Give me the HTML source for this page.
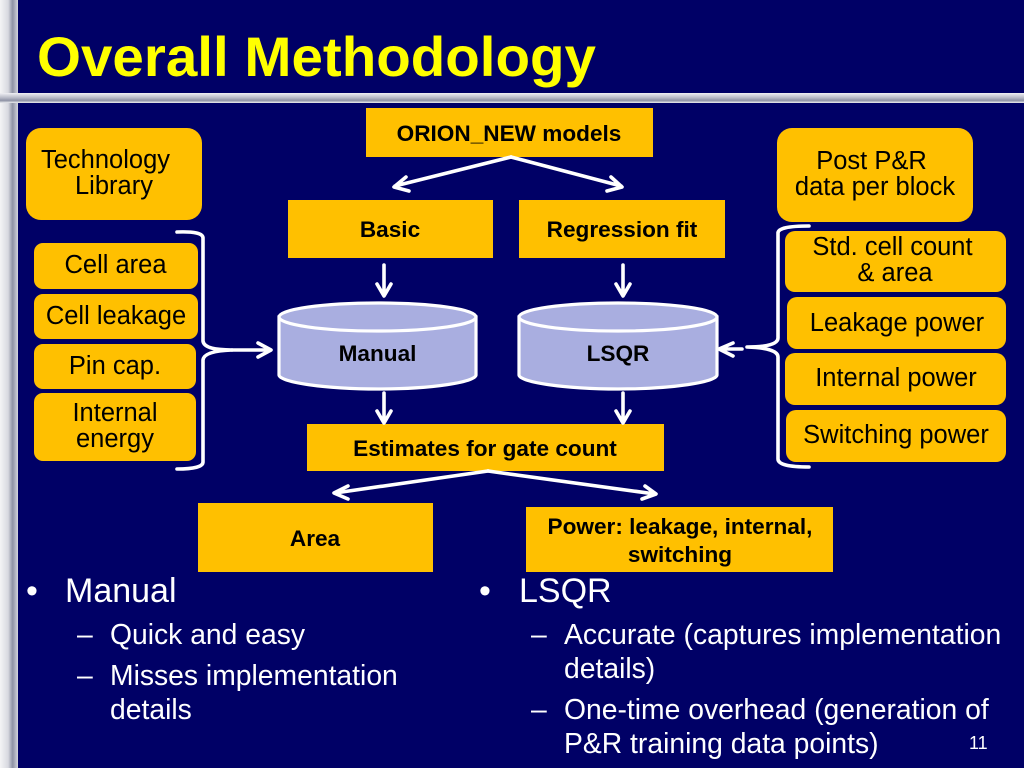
<!DOCTYPE html>
<html><head><meta charset="utf-8"><style>
html,body{margin:0;padding:0;background:#000066;width:1024px;height:768px;overflow:hidden}
svg{display:block}
text{font-family:"Liberation Sans",sans-serif}
.b{font-weight:bold;font-size:22.600px;fill:#000;text-anchor:middle}
.r{font-size:25.500px;fill:#000;text-anchor:middle}
.w1{font-size:34px;fill:#fff}
.w2{font-size:28.300px;fill:#fff}
.y{fill:#ffc000}
.a{fill:none;stroke:#fff;stroke-width:3.600}
</style></head><body>
<svg width="1024" height="768" viewBox="0 0 1024 768" xmlns="http://www.w3.org/2000/svg">
<defs>
<linearGradient id="v" x1="0" x2="1" y1="0" y2="0"><stop offset="0" stop-color="#f4f4f6"/><stop offset=".45" stop-color="#d8d9e0"/><stop offset=".7" stop-color="#8e92a4"/><stop offset="1" stop-color="#d4d5dd"/></linearGradient>
<linearGradient id="h" x1="0" x2="0" y1="0" y2="1"><stop offset="0" stop-color="#f0f0f4"/><stop offset=".5" stop-color="#b4b6c4"/><stop offset=".75" stop-color="#8e92a4"/><stop offset="1" stop-color="#eeeef2"/></linearGradient>
</defs>
<rect width="1024" height="768" fill="#000066"/>
<rect x="0" y="0" width="18" height="768" fill="url(#v)"/>
<rect x="0" y="93" width="1024" height="10" fill="url(#h)"/>
<text x="37" y="76" font-size="56" font-weight="bold" fill="#ffff00" textLength="559" lengthAdjust="spacingAndGlyphs">Overall Methodology</text>

<rect class="y" x="366" y="108" width="287" height="49"/>
<text class="b" x="509" y="141">ORION_NEW models</text>
<rect class="y" x="288" y="200" width="205" height="58"/>
<text class="b" x="390" y="237">Basic</text>
<rect class="y" x="519" y="200" width="206" height="58"/>
<text class="b" x="622" y="237">Regression fit</text>
<rect class="y" x="307" y="424" width="357" height="47"/>
<text class="b" x="485" y="456">Estimates for gate count</text>
<rect class="y" x="198" y="503" width="235" height="69"/>
<text class="b" x="315" y="546">Area</text>
<rect class="y" x="526" y="507" width="307" height="65"/>
<text class="b" x="680" y="534">Power: leakage, internal,</text>
<text class="b" x="680" y="562">switching</text>

<rect class="y" x="26" y="128" width="176" height="92" rx="15"/>
<text class="r" x="41" y="168" style="text-anchor:start">Technology</text>
<text class="r" x="75" y="194" style="text-anchor:start">Library</text>
<rect class="y" x="34" y="243" width="164" height="46" rx="9"/>
<text class="r" x="115.500" y="273">Cell area</text>
<rect class="y" x="34" y="294" width="164" height="45" rx="9"/>
<text class="r" x="116" y="324">Cell leakage</text>
<rect class="y" x="34" y="344" width="162" height="45" rx="9"/>
<text class="r" x="115" y="374">Pin cap.</text>
<rect class="y" x="34" y="393" width="162" height="68" rx="9"/>
<text class="r" x="115" y="421">Internal</text>
<text class="r" x="115" y="447">energy</text>

<rect class="y" x="777" y="128" width="196" height="94" rx="15"/>
<text class="r" x="871.500" y="169">Post P&amp;R</text>
<text class="r" x="875" y="195">data per block</text>
<rect class="y" x="785" y="231" width="221" height="61" rx="10"/>
<text class="r" x="892.500" y="255">Std. cell count</text>
<text class="r" x="895" y="281">&amp; area</text>
<rect class="y" x="787" y="297" width="219" height="52" rx="10"/>
<text class="r" x="897" y="331">Leakage power</text>
<rect class="y" x="785" y="353" width="221" height="52" rx="10"/>
<text class="r" x="896" y="386">Internal power</text>
<rect class="y" x="786" y="410" width="220" height="52" rx="10"/>
<text class="r" x="896" y="443">Switching power</text>

<!-- cylinders -->
<g fill="#a9aee0" stroke="#fff" stroke-width="3.200">
<path d="M279 317 V375 C279 382 324 389 378 389 C432 389 476 382 476 375 V317 Z"/>
<ellipse cx="377.500" cy="317" rx="98.500" ry="14"/>
<path d="M519 317 V375 C519 382 564 389 618 389 C672 389 717 382 717 375 V317 Z"/>
<ellipse cx="618" cy="317" rx="99" ry="14"/>
</g>
<text class="b" x="377.500" y="361">Manual</text>
<text class="b" x="618" y="361">LSQR</text>

<!-- arrows -->
<g stroke-linecap="round" stroke-linejoin="round">
<path class="a" d="M511 157 L395 186 M406 177 L394 187 L409 191"/>
<path class="a" d="M511 157 L621 186 M611 177 L622 187 L607 191"/>
<path class="a" d="M384 265 V295 M377 284 L384 296 L391 284"/>
<path class="a" d="M623 265 V295 M616 284 L623 296 L630 284"/>
<path class="a" d="M384 393 V422 M377 411 L384 423 L391 411"/>
<path class="a" d="M623 393 V422 M616 411 L623 423 L630 411"/>
<path class="a" d="M488 471 L335 493 M348 486 L334 493 L348 499"/>
<path class="a" d="M488 471 L655 494 M645 486 L656 494 L642 499"/>
<path class="a" d="M232 350 H270 M258 343 L271 350 L258 357"/>
<path class="a" d="M742 349 H721 M733 343 L719 349 L733 356"/>
<path class="a" d="M177 232 Q203 231 203 238 V341 Q204 350 232 350 Q204 351 203 360 V462 Q203 469 177 469"/>
<path class="a" d="M809 226 Q778 226 778 233 V338 Q778 347 747 347 Q778 348 778 357 V459 Q778 467 809 467"/>
</g>

<!-- bullets -->
<text class="w1" x="26" y="602">•</text>
<text class="w1" x="65" y="602">Manual</text>
<text class="w2" x="77" y="644">–</text>
<text class="w2" x="110" y="644">Quick and easy</text>
<text class="w2" x="77" y="685">–</text>
<text class="w2" x="110" y="685">Misses implementation</text>
<text class="w2" x="110" y="719">details</text>
<text class="w1" x="479" y="602">•</text>
<text class="w1" x="519" y="602">LSQR</text>
<text class="w2" x="531" y="644">–</text>
<text class="w2" x="564" y="644">Accurate (captures implementation</text>
<text class="w2" x="564" y="678">details)</text>
<text class="w2" x="531" y="719">–</text>
<text class="w2" x="564" y="719">One-time overhead (generation of</text>
<text class="w2" x="564" y="753">P&amp;R training data points)</text>
<text x="969" y="749" font-size="18" fill="#fff">11</text>
</svg>
</body></html>
